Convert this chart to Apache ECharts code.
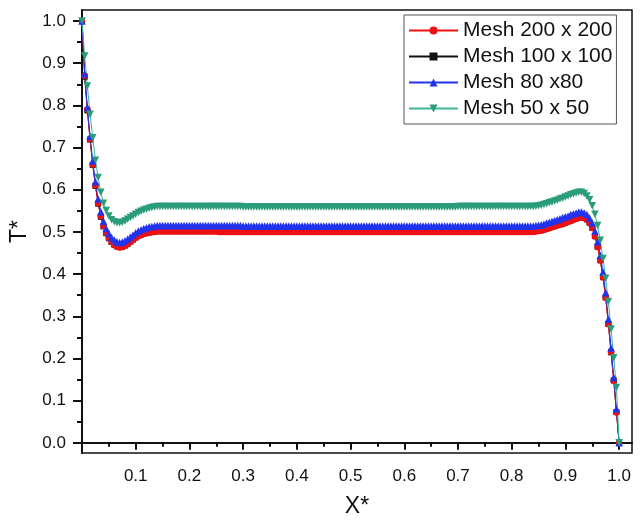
<!DOCTYPE html>
<html>
<head>
<meta charset="utf-8">
<script src="https://cdn.jsdelivr.net/npm/echarts@6/dist/echarts.min.js"></script>
<style>
  html, body { margin: 0; padding: 0; background: #fff; }
  #chart { width: 640px; height: 525px; }
</style>
</head>
<body>
<div id="chart"></div>
<script>
// X* positions of the plotted points
const xValues = [
  0, 0.005, 0.01, 0.015, 0.02, 0.025, 0.03, 0.035, 0.04, 0.045,
  0.05, 0.055, 0.06, 0.065, 0.07, 0.075, 0.08, 0.085, 0.09, 0.095,
  0.1, 0.105, 0.11, 0.115, 0.12, 0.125, 0.13, 0.135, 0.14, 0.145,
  0.15, 0.155, 0.16, 0.165, 0.17, 0.175, 0.18, 0.185, 0.19, 0.195,
  0.2, 0.205, 0.21, 0.215, 0.22, 0.225, 0.23, 0.235, 0.24, 0.245,
  0.25, 0.255, 0.26, 0.265, 0.27, 0.275, 0.28, 0.285, 0.29, 0.295,
  0.3, 0.305, 0.31, 0.315, 0.32, 0.325, 0.33, 0.335, 0.34, 0.345,
  0.35, 0.355, 0.36, 0.365, 0.37, 0.375, 0.38, 0.385, 0.39, 0.395,
  0.4, 0.405, 0.41, 0.415, 0.42, 0.425, 0.43, 0.435, 0.44, 0.445,
  0.45, 0.455, 0.46, 0.465, 0.47, 0.475, 0.48, 0.485, 0.49, 0.495,
  0.5, 0.505, 0.51, 0.515, 0.52, 0.525, 0.53, 0.535, 0.54, 0.545,
  0.55, 0.555, 0.56, 0.565, 0.57, 0.575, 0.58, 0.585, 0.59, 0.595,
  0.6, 0.605, 0.61, 0.615, 0.62, 0.625, 0.63, 0.635, 0.64, 0.645,
  0.65, 0.655, 0.66, 0.665, 0.67, 0.675, 0.68, 0.685, 0.69, 0.695,
  0.7, 0.705, 0.71, 0.715, 0.72, 0.725, 0.73, 0.735, 0.74, 0.745,
  0.75, 0.755, 0.76, 0.765, 0.77, 0.775, 0.78, 0.785, 0.79, 0.795,
  0.8, 0.805, 0.81, 0.815, 0.82, 0.825, 0.83, 0.835, 0.84, 0.845,
  0.85, 0.855, 0.86, 0.865, 0.87, 0.875, 0.88, 0.885, 0.89, 0.895,
  0.9, 0.905, 0.91, 0.915, 0.92, 0.925, 0.93, 0.935, 0.94, 0.945,
  0.95, 0.955, 0.96, 0.965, 0.97, 0.975, 0.98, 0.985, 0.99, 0.995,
  1
];

// T* for each mesh
const mesh200 = [
  1.000, 0.870, 0.790, 0.720, 0.660, 0.610, 0.568, 0.537, 0.514, 0.497,
  0.485, 0.476, 0.469, 0.465, 0.463, 0.464, 0.467, 0.471, 0.476, 0.481,
  0.486, 0.490, 0.493, 0.495, 0.497, 0.498, 0.499, 0.500, 0.501, 0.501,
  0.501, 0.501, 0.501, 0.501, 0.501, 0.501, 0.501, 0.501, 0.501, 0.501,
  0.501, 0.501, 0.501, 0.501, 0.501, 0.501, 0.501, 0.501, 0.501, 0.501,
  0.501, 0.500, 0.500, 0.500, 0.500, 0.500, 0.500, 0.500, 0.500, 0.500,
  0.500, 0.500, 0.500, 0.500, 0.500, 0.500, 0.500, 0.500, 0.500, 0.500,
  0.500, 0.500, 0.500, 0.500, 0.500, 0.500, 0.500, 0.500, 0.500, 0.500,
  0.500, 0.500, 0.500, 0.500, 0.500, 0.500, 0.500, 0.500, 0.500, 0.500,
  0.500, 0.500, 0.500, 0.500, 0.500, 0.500, 0.500, 0.500, 0.500, 0.500,
  0.500, 0.500, 0.500, 0.500, 0.500, 0.500, 0.500, 0.500, 0.500, 0.500,
  0.500, 0.500, 0.500, 0.500, 0.500, 0.500, 0.500, 0.500, 0.500, 0.500,
  0.500, 0.500, 0.500, 0.500, 0.500, 0.500, 0.500, 0.500, 0.500, 0.500,
  0.500, 0.500, 0.500, 0.500, 0.500, 0.500, 0.500, 0.500, 0.500, 0.500,
  0.500, 0.500, 0.500, 0.500, 0.500, 0.500, 0.500, 0.500, 0.500, 0.500,
  0.500, 0.500, 0.500, 0.500, 0.500, 0.500, 0.500, 0.500, 0.500, 0.500,
  0.500, 0.500, 0.500, 0.500, 0.500, 0.500, 0.500, 0.500, 0.500, 0.501,
  0.502, 0.503, 0.505, 0.507, 0.509, 0.511, 0.513, 0.515, 0.517, 0.519,
  0.521, 0.524, 0.526, 0.529, 0.531, 0.533, 0.534, 0.533, 0.529, 0.521,
  0.509, 0.489, 0.464, 0.432, 0.392, 0.344, 0.281, 0.214, 0.147, 0.072,
  0.000
];

const mesh100 = [
  1.000, 0.868, 0.788, 0.719, 0.659, 0.609, 0.567, 0.536, 0.513, 0.497,
  0.485, 0.476, 0.470, 0.466, 0.464, 0.465, 0.468, 0.472, 0.477, 0.482,
  0.487, 0.491, 0.494, 0.496, 0.498, 0.499, 0.500, 0.501, 0.502, 0.502,
  0.502, 0.502, 0.502, 0.502, 0.502, 0.502, 0.502, 0.502, 0.502, 0.502,
  0.502, 0.502, 0.502, 0.502, 0.502, 0.502, 0.502, 0.502, 0.502, 0.502,
  0.502, 0.502, 0.501, 0.501, 0.501, 0.501, 0.501, 0.501, 0.501, 0.501,
  0.501, 0.501, 0.501, 0.501, 0.501, 0.501, 0.501, 0.501, 0.501, 0.501,
  0.501, 0.501, 0.501, 0.501, 0.501, 0.501, 0.501, 0.501, 0.501, 0.501,
  0.501, 0.501, 0.501, 0.501, 0.501, 0.501, 0.501, 0.501, 0.501, 0.501,
  0.501, 0.501, 0.501, 0.501, 0.501, 0.501, 0.501, 0.501, 0.501, 0.501,
  0.501, 0.501, 0.501, 0.501, 0.501, 0.501, 0.501, 0.501, 0.501, 0.501,
  0.501, 0.501, 0.501, 0.501, 0.501, 0.501, 0.501, 0.501, 0.501, 0.501,
  0.501, 0.501, 0.501, 0.501, 0.501, 0.501, 0.501, 0.501, 0.501, 0.501,
  0.501, 0.501, 0.501, 0.501, 0.501, 0.501, 0.501, 0.501, 0.501, 0.501,
  0.501, 0.501, 0.501, 0.501, 0.501, 0.501, 0.501, 0.501, 0.501, 0.501,
  0.501, 0.501, 0.501, 0.501, 0.501, 0.501, 0.501, 0.501, 0.501, 0.501,
  0.501, 0.501, 0.501, 0.501, 0.501, 0.501, 0.501, 0.501, 0.501, 0.502,
  0.503, 0.504, 0.506, 0.508, 0.510, 0.512, 0.514, 0.516, 0.518, 0.520,
  0.522, 0.525, 0.527, 0.530, 0.532, 0.534, 0.535, 0.534, 0.530, 0.522,
  0.510, 0.490, 0.465, 0.433, 0.393, 0.345, 0.282, 0.215, 0.148, 0.073,
  0.000
];

const mesh80 = [
  1.000, 0.875, 0.795, 0.727, 0.668, 0.619, 0.578, 0.548, 0.525, 0.508,
  0.496, 0.487, 0.481, 0.477, 0.475, 0.476, 0.479, 0.483, 0.488, 0.493,
  0.498, 0.502, 0.505, 0.508, 0.510, 0.512, 0.513, 0.514, 0.515, 0.515,
  0.515, 0.515, 0.515, 0.515, 0.515, 0.515, 0.515, 0.515, 0.515, 0.515,
  0.515, 0.515, 0.515, 0.515, 0.515, 0.515, 0.515, 0.515, 0.515, 0.515,
  0.515, 0.515, 0.515, 0.515, 0.515, 0.515, 0.515, 0.515, 0.515, 0.515,
  0.514, 0.514, 0.514, 0.514, 0.514, 0.514, 0.514, 0.514, 0.514, 0.514,
  0.514, 0.514, 0.514, 0.514, 0.514, 0.514, 0.514, 0.514, 0.514, 0.514,
  0.514, 0.514, 0.514, 0.514, 0.514, 0.514, 0.514, 0.514, 0.514, 0.514,
  0.514, 0.514, 0.514, 0.514, 0.514, 0.514, 0.514, 0.514, 0.514, 0.514,
  0.514, 0.514, 0.514, 0.514, 0.514, 0.514, 0.514, 0.514, 0.514, 0.514,
  0.514, 0.514, 0.514, 0.514, 0.514, 0.514, 0.514, 0.514, 0.514, 0.514,
  0.514, 0.514, 0.514, 0.514, 0.514, 0.514, 0.514, 0.514, 0.514, 0.514,
  0.514, 0.514, 0.514, 0.514, 0.514, 0.514, 0.514, 0.514, 0.514, 0.514,
  0.514, 0.514, 0.514, 0.514, 0.514, 0.514, 0.514, 0.514, 0.514, 0.514,
  0.514, 0.514, 0.514, 0.514, 0.514, 0.514, 0.514, 0.514, 0.514, 0.514,
  0.514, 0.514, 0.514, 0.514, 0.514, 0.514, 0.514, 0.514, 0.514, 0.515,
  0.516, 0.517, 0.519, 0.521, 0.523, 0.525, 0.527, 0.529, 0.531, 0.534,
  0.536, 0.538, 0.541, 0.543, 0.545, 0.547, 0.547, 0.545, 0.541, 0.533,
  0.521, 0.502, 0.477, 0.445, 0.405, 0.356, 0.293, 0.225, 0.155, 0.080,
  0.000
];

const mesh50 = [
  1.000, 0.917, 0.846, 0.779, 0.723, 0.670, 0.629, 0.594, 0.568, 0.551,
  0.538, 0.529, 0.524, 0.522, 0.522, 0.523, 0.526, 0.530, 0.534, 0.538,
  0.542, 0.546, 0.549, 0.552, 0.554, 0.556, 0.558, 0.559, 0.560, 0.560,
  0.560, 0.560, 0.560, 0.560, 0.560, 0.560, 0.560, 0.560, 0.560, 0.560,
  0.560, 0.560, 0.560, 0.560, 0.560, 0.560, 0.560, 0.560, 0.560, 0.560,
  0.560, 0.560, 0.560, 0.560, 0.560, 0.560, 0.560, 0.560, 0.560, 0.560,
  0.559, 0.559, 0.559, 0.559, 0.559, 0.559, 0.559, 0.559, 0.559, 0.559,
  0.559, 0.559, 0.559, 0.559, 0.559, 0.559, 0.559, 0.559, 0.559, 0.559,
  0.559, 0.559, 0.559, 0.559, 0.559, 0.559, 0.559, 0.559, 0.559, 0.559,
  0.559, 0.559, 0.559, 0.559, 0.559, 0.559, 0.559, 0.559, 0.559, 0.559,
  0.559, 0.559, 0.559, 0.559, 0.559, 0.559, 0.559, 0.559, 0.559, 0.559,
  0.559, 0.559, 0.559, 0.559, 0.559, 0.559, 0.559, 0.559, 0.559, 0.559,
  0.559, 0.559, 0.559, 0.559, 0.559, 0.559, 0.559, 0.559, 0.559, 0.559,
  0.559, 0.559, 0.559, 0.559, 0.559, 0.559, 0.559, 0.559, 0.559, 0.559,
  0.560, 0.560, 0.560, 0.560, 0.560, 0.560, 0.560, 0.560, 0.560, 0.560,
  0.560, 0.560, 0.560, 0.560, 0.560, 0.560, 0.560, 0.560, 0.560, 0.560,
  0.560, 0.560, 0.560, 0.560, 0.560, 0.560, 0.560, 0.560, 0.560, 0.561,
  0.562, 0.563, 0.565, 0.567, 0.569, 0.571, 0.573, 0.575, 0.578, 0.580,
  0.583, 0.585, 0.588, 0.590, 0.592, 0.594, 0.594, 0.591, 0.585, 0.576,
  0.562, 0.542, 0.515, 0.480, 0.437, 0.390, 0.335, 0.270, 0.202, 0.131,
  0.000
];

const seriesNames = ['Mesh 200 x 200', 'Mesh 100 x 100', 'Mesh 80 x80', 'Mesh 50 x 50'];
const majorTicks = [0, 0.1, 0.2, 0.3, 0.4, 0.5, 0.6, 0.7, 0.8, 0.9, 1.0];
const xLabelTicks = [0.1, 0.2, 0.3, 0.4, 0.5, 0.6, 0.7, 0.8, 0.9, 1.0];
const minorTicks = [0.05, 0.15, 0.25, 0.35, 0.45, 0.55, 0.65, 0.75, 0.85, 0.95];

const FONT = 'Liberation Sans, Arial, sans-serif';
const downTriangle = 'path://M0,0L10,0L5,9Z';

function toPoints(ys) {
  return xValues.map((x, i) => [x, ys[i]]);
}

function makeSeries(name, ys, symbol, size, color, lineColor) {
  return {
    name: name,
    type: 'line',
    data: toPoints(ys),
    symbol: symbol,
    symbolSize: size,
    showAllSymbol: true,
    itemStyle: { color: color },
    lineStyle: { color: lineColor || color, width: 1 },
    emphasis: { disabled: true }
  };
}

const chart = echarts.init(document.getElementById('chart'));

const xBase = {
  type: 'value',
  min: 0,
  max: 1.024,
  position: 'bottom',
  splitLine: { show: false }
};
const yBase = {
  type: 'value',
  min: -0.024,
  max: 1.026,
  position: 'left',
  splitLine: { show: false }
};

chart.setOption({
  animation: false,
  backgroundColor: '#fff',
  grid: {
    left: 77, top: 10, right: 8, bottom: 72,
    show: true,
    borderColor: '#111',
    borderWidth: 1.5
  },
  legend: {
    data: seriesNames,
    orient: 'vertical',
    left: 404,
    top: 15,
    padding: [5, 4, 5, 4],
    itemWidth: 49,
    itemHeight: 10,
    itemGap: 5,
    backgroundColor: '#fff',
    borderColor: '#555',
    borderWidth: 1,
    borderRadius: 0,
    textStyle: { fontFamily: FONT, fontSize: 21, lineHeight: 21, color: '#111' }
  },
  xAxis: [
    Object.assign({}, xBase, {
      name: 'X*',
      nameLocation: 'middle',
      nameGap: 42,
      nameTextStyle: { fontFamily: FONT, fontSize: 23, color: '#111' },
      axisLine: { lineStyle: { color: '#111', width: 2 } },
      axisTick: { customValues: xLabelTicks, length: 7, lineStyle: { color: '#111', width: 2 } },
      axisLabel: {
        customValues: xLabelTicks,
        margin: 15,
        fontFamily: FONT, fontSize: 17, color: '#111',
        formatter: (v) => v.toFixed(1)
      }
    }),
    Object.assign({}, xBase, {
      axisLine: { show: false },
      axisLabel: { show: false },
      axisTick: { customValues: minorTicks, length: 4, lineStyle: { color: '#111', width: 2 } }
    })
  ],
  yAxis: [
    Object.assign({}, yBase, {
      name: 'T*',
      nameLocation: 'middle',
      nameGap: 51,
      nameTextStyle: { fontFamily: FONT, fontSize: 23, color: '#111' },
      axisLine: { lineStyle: { color: '#111', width: 2 } },
      axisTick: { customValues: majorTicks, length: 9, lineStyle: { color: '#111', width: 2 } },
      axisLabel: {
        customValues: majorTicks,
        margin: 16,
        fontFamily: FONT, fontSize: 17, color: '#111',
        formatter: (v) => v.toFixed(1)
      }
    }),
    Object.assign({}, yBase, {
      axisLine: { show: false },
      axisLabel: { show: false },
      axisTick: { customValues: minorTicks, length: 5, lineStyle: { color: '#111', width: 2 } }
    })
  ],
  // black is listed first so the red mesh sits on top of it, as in the figure
  series: [
    makeSeries(seriesNames[1], mesh100, 'rect', 6, '#111111'),
    makeSeries(seriesNames[0], mesh200, 'circle', 6.5, '#ee1111'),
    makeSeries(seriesNames[2], mesh80, 'triangle', 7.5, '#2233ee'),
    makeSeries(seriesNames[3], mesh50, downTriangle, 7.5, '#2a9c7a', '#3cb896')
  ]
});
</script>
</body>
</html>
